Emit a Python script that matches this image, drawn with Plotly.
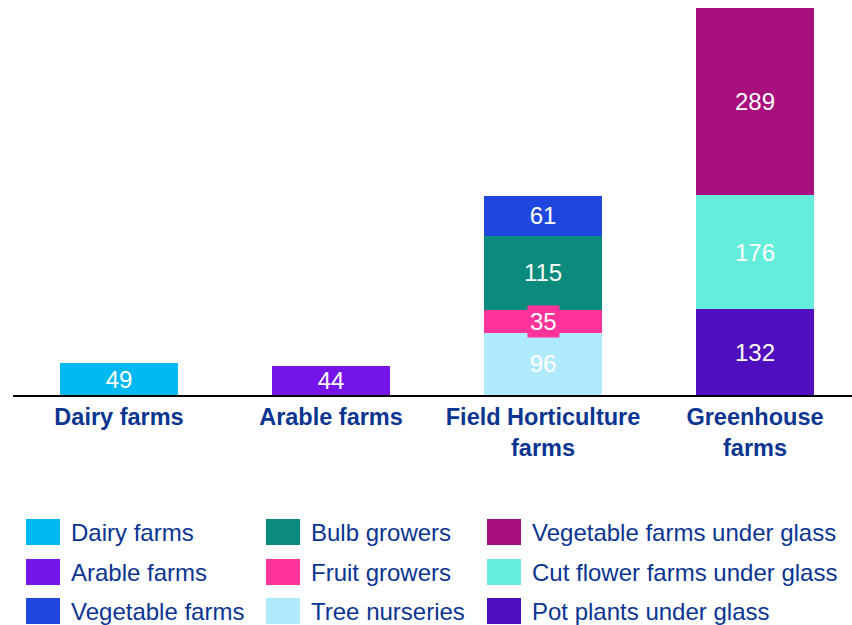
import plotly.graph_objects as go

# Farm types along the axis
categories = ["Dairy farms", "Arable farms", "Field Horticulture<br>farms", "Greenhouse<br>farms"]

# Stacked segments, bottom to top within each farm type
series_names = [
    "Dairy farms", "Arable farms",
    "Tree nurseries", "Fruit growers", "Bulb growers", "Vegetable farms",
    "Pot plants under glass", "Cut flower farms under glass", "Vegetable farms under glass",
]
series_category = [0, 1, 2, 2, 2, 2, 3, 3, 3]
series_values = [49, 44, 96, 35, 115, 61, 132, 176, 289]
series_colors = [
    "#00B9F2", "#7414E8",
    "#B0EBFD", "#FF3399", "#0A8B7B", "#1F47E0",
    "#500FBE", "#64EDDA", "#AA0F7E",
]

# Legend arrangement: three columns, read top to bottom
legend_columns = [
    ["Dairy farms", "Arable farms", "Vegetable farms"],
    ["Bulb growers", "Fruit growers", "Tree nurseries"],
    ["Vegetable farms under glass", "Cut flower farms under glass", "Pot plants under glass"],
]

FONT = "Liberation Sans, Arial, sans-serif"
NAVY = "#0B3591"
W, H = 852, 625

fig = go.Figure()
annotations = []
stack_base = {i: 0 for i in range(len(categories))}

for name, ci, val, col in zip(series_names, series_category, series_values, series_colors):
    small = name == "Fruit growers"
    fig.add_trace(go.Bar(
        x=[categories[ci]], y=[val], name=name,
        marker=dict(color=col, line=dict(width=0)),
        text=[str(val)],
        textposition="none" if small else "inside",
        insidetextanchor="middle",
        textangle=0,
        constraintext="none",
        textfont=dict(family=FONT, size=24, color="white"),
        showlegend=False,
    ))
    if small:
        # Thin segment: label sits on its own coloured box
        annotations.append(dict(
            x=categories[ci], y=stack_base[ci] + val / 2, xref="x", yref="y",
            text=str(val), showarrow=False, bgcolor=col, borderpad=2,
            font=dict(family=FONT, size=24, color="white"),
        ))
    stack_base[ci] += val

# Hand-built legend with large swatches
col_x = [26, 266, 487]
row_y = [519, 559, 598]
sw_w, sw_h = 34, 26
shapes = []
color_of = dict(zip(series_names, series_colors))
for c, names in enumerate(legend_columns):
    for r, nm in enumerate(names):
        x0, y0 = col_x[c], row_y[r]
        shapes.append(dict(
            type="rect", xref="paper", yref="paper",
            x0=(x0 - 13) / (W - 13), x1=(x0 + sw_w - 13) / (W - 13),
            y0=(395 - y0) / 395, y1=(395 - y0 - sw_h) / 395,
            fillcolor=color_of[nm], line=dict(width=0), layer="above",
        ))
        annotations.append(dict(
            x=(x0 + sw_w + 9 - 13) / (W - 13), y=(395 - (y0 + sw_h / 2)) / 395,
            xref="paper", yref="paper", xanchor="left", yanchor="middle",
            text=nm, showarrow=False,
            font=dict(family=FONT, size=24, color=NAVY),
        ))

fig.update_layout(
    width=W, height=H,
    margin=dict(l=13, r=0, t=0, b=230),
    paper_bgcolor="white", plot_bgcolor="white",
    barmode="stack", bargap=0.443,
    showlegend=False,
    shapes=shapes, annotations=annotations,
    xaxis=dict(
        categoryorder="array", categoryarray=categories,
        range=[-0.5, 3.4575],
        showline=True, linecolor="black", linewidth=2,
        showgrid=False, ticks="", zeroline=False,
        tickfont=dict(family=FONT, size=23.5, color=NAVY, weight="bold"),
    ),
    yaxis=dict(range=[0, 609.4], visible=False),
)

fig.write_html("out.html")
